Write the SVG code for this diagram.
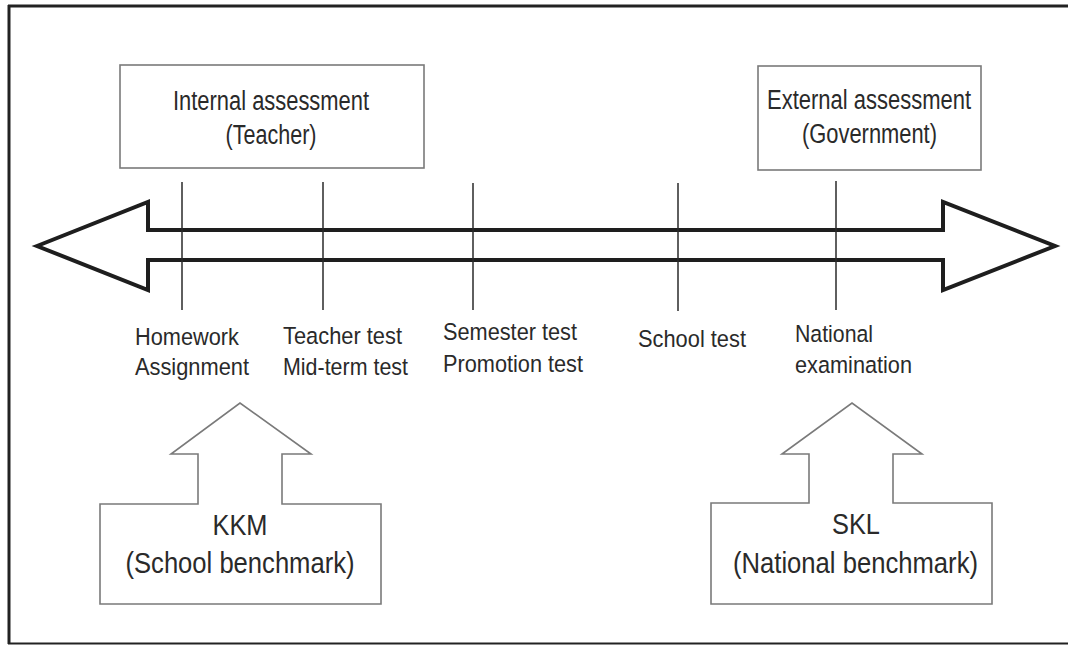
<svg xmlns="http://www.w3.org/2000/svg" width="1068" height="646" viewBox="0 0 1068 646">
  <style>
    .box { fill: #ffffff; stroke: #7a7a7a; stroke-width: 1.6; }
    .big { fill: #ffffff; stroke: #1e1e1e; stroke-width: 4; stroke-linejoin: miter; }
    .tick { stroke: #2a2a2a; stroke-width: 1.5; fill: none; }
    .frame { stroke: #222222; fill: none; }
    text { font-family: "Liberation Sans", Arial, sans-serif; fill: #2a2a2a; }
    .t1 { font-size: 27px; text-anchor: middle; }
    .t2 { font-size: 29px; text-anchor: middle; }
    .lab { font-size: 24.5px; text-anchor: start; }
  </style>
  <rect x="0" y="0" width="1068" height="646" fill="#ffffff"/>
  <g id="frame">
    <line class="frame" x1="8" y1="6" x2="1068" y2="6" stroke-width="3"/>
    <line class="frame" x1="9" y1="5" x2="9" y2="644" stroke-width="3"/>
    <line class="frame" x1="8" y1="643.5" x2="1068" y2="643.5" stroke-width="2" stroke="#555555"/>
  </g>

  <g id="internal-assessment">
    <rect class="box" x="120" y="65" width="304" height="103"/>
    <text class="t1" x="271" y="110" textLength="196" lengthAdjust="spacingAndGlyphs">Internal assessment</text>
    <text class="t1" x="271" y="144" textLength="91" lengthAdjust="spacingAndGlyphs">(Teacher)</text>
  </g>

  <g id="external-assessment">
    <rect class="box" x="758" y="66" width="223" height="104"/>
    <text class="t1" x="869" y="109" textLength="204" lengthAdjust="spacingAndGlyphs">External assessment</text>
    <text class="t1" x="869.5" y="143" textLength="135" lengthAdjust="spacingAndGlyphs">(Government)</text>
  </g>

  <g id="timeline">
    <polygon class="big" points="37,246 148,202 148,230 943,230 943,202 1055,246 943,290 943,260 148,260 148,290"/>
  </g>

  <g id="connectors">
    <line class="tick" x1="182" y1="182" x2="182" y2="310"/>
    <line class="tick" x1="323" y1="182" x2="323" y2="310"/>
    <line class="tick" x1="473" y1="183" x2="473" y2="310"/>
    <line class="tick" x1="678" y1="183" x2="678" y2="311"/>
    <line class="tick" x1="836" y1="181" x2="836" y2="310"/>
  </g>

  <g id="label-homework">
    <text class="lab" x="135" y="345" textLength="104" lengthAdjust="spacingAndGlyphs">Homework</text>
    <text class="lab" x="135" y="375" textLength="114" lengthAdjust="spacingAndGlyphs">Assignment</text>
  </g>
  <g id="label-teacher-test">
    <text class="lab" x="283" y="344" textLength="119" lengthAdjust="spacingAndGlyphs">Teacher test</text>
    <text class="lab" x="283" y="375" textLength="125" lengthAdjust="spacingAndGlyphs">Mid-term test</text>
  </g>
  <g id="label-semester-test">
    <text class="lab" x="443" y="340" textLength="134" lengthAdjust="spacingAndGlyphs">Semester test</text>
    <text class="lab" x="443" y="372" textLength="140" lengthAdjust="spacingAndGlyphs">Promotion test</text>
  </g>
  <g id="label-school-test">
    <text class="lab" x="638" y="347" textLength="108" lengthAdjust="spacingAndGlyphs">School test</text>
  </g>
  <g id="label-national-exam">
    <text class="lab" x="795" y="342" textLength="78" lengthAdjust="spacingAndGlyphs">National</text>
    <text class="lab" x="795" y="373" textLength="117" lengthAdjust="spacingAndGlyphs">examination</text>
  </g>

  <g id="kkm">
    <polygon class="box" points="100,504 198,504 198,454 171,454 240,403 311,454 282,454 282,504 381,504 381,604 100,604"/>
    <text class="t2" x="240" y="535" textLength="55" lengthAdjust="spacingAndGlyphs">KKM</text>
    <text class="t2" x="240" y="573" textLength="229" lengthAdjust="spacingAndGlyphs">(School benchmark)</text>
  </g>

  <g id="skl">
    <polygon class="box" points="711,503 809,503 809,454 782,454 852,403 922,454 893,454 893,503 992,503 992,604 711,604"/>
    <text class="t2" x="856" y="534" textLength="48" lengthAdjust="spacingAndGlyphs">SKL</text>
    <text class="t2" x="855.5" y="573" textLength="245" lengthAdjust="spacingAndGlyphs">(National benchmark)</text>
  </g>
</svg>
